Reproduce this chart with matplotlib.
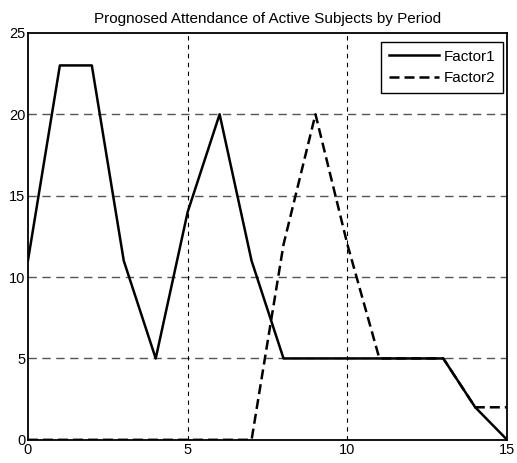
import matplotlib
matplotlib.use('Agg')
import matplotlib.pyplot as plt

plt.rcParams['font.family'] = ['Liberation Sans', 'DejaVu Sans']

periods = list(range(16))
factor1 = [11, 23, 23, 11, 5, 14, 20, 11, 5, 5, 5, 5, 5, 5, 2, 0]
factor2 = [0, 0, 0, 0, 0, 0, 0, 0, 12, 20, 12, 5, 5, 5, 2, 2]

x_ticks = [0, 5, 10, 15]
y_ticks = [0, 5, 10, 15, 20, 25]

fig = plt.figure(figsize=(5.17, 4.63), dpi=100)
ax = fig.add_axes([0.054, 0.050, 0.927, 0.879])

# grid: grey horizontal, black vertical
for y in y_ticks[1:-1]:
    ax.axhline(y, color='#555555', linestyle=(0, (6, 4)), linewidth=1.0, zorder=0)
for x in x_ticks[1:-1]:
    ax.axvline(x, color='black', linestyle=(0, (4, 4)), linewidth=0.8, zorder=0)

ax.plot(periods, factor2, color='black', linestyle=(0, (4, 2)), linewidth=1.8, label='Factor2')
ax.plot(periods, factor1, color='black', linestyle='-', linewidth=1.8, label='Factor1')

ax.set_xlim(0, 15)
ax.set_ylim(0, 25)
ax.set_xticks(x_ticks)
ax.set_yticks(y_ticks)
ax.tick_params(length=0, labelsize=10.5, pad=2)
for s in ax.spines.values():
    s.set_linewidth(1.3)

ax.set_title('Prognosed Attendance of Active Subjects by Period', fontsize=11, pad=7)

handles, labels = ax.get_legend_handles_labels()
leg = ax.legend(handles[::-1], labels[::-1], loc='upper right',
                bbox_to_anchor=(1 - 4 / 479, 1 - 9 / 407), borderaxespad=0,
                fontsize=11, fancybox=False, framealpha=1, edgecolor='black',
                handlelength=3.3, handletextpad=0.3,
                borderpad=0.5, labelspacing=0.5)
leg.get_frame().set_linewidth(1.0)

fig.savefig('out.png', dpi=100)
